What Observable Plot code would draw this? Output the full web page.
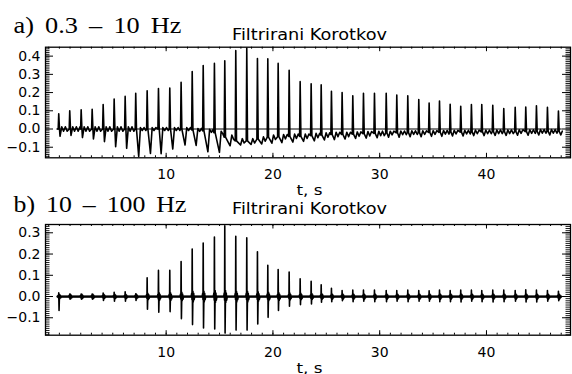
<!DOCTYPE html>
<html><head><meta charset="utf-8">
<script src="https://cdn.jsdelivr.net/npm/d3@7"></script>
<script src="https://cdn.jsdelivr.net/npm/@observablehq/plot@0.6"></script>
<style>
body{margin:0;background:#fff;}
#wrap{position:relative;width:572px;height:374px;overflow:hidden;background:#fff;}
#wrap svg{position:absolute;left:0;overflow:visible;}
</style></head><body><div id="wrap"></div>
<script>
// ---- data ----
const beatTimes = [-0.06, 0.97, 2.04, 3.07, 4.10, 5.13, 6.16, 7.15, 8.22, 9.28,
  10.34, 11.40, 12.44, 13.47, 14.52, 15.49, 16.52, 17.55, 18.55, 19.52,
  20.49, 21.52, 22.55, 23.58, 24.52, 25.48, 26.48, 27.48, 28.48, 29.51,
  30.61, 31.60, 32.63, 33.66, 34.63, 35.60, 36.60, 37.59, 38.59, 39.56,
  40.59, 41.62, 42.69, 43.68, 44.68, 45.71, 46.74];
const traceStart = -0.2, traceEnd = 47.1;

// panel a (0.3 - 10 Hz)
const peakA = [0.084, 0.100, 0.106, 0.108, 0.134, 0.164, 0.179, 0.196, 0.210, 0.222,
  0.225, 0.257, 0.315, 0.348, 0.360, 0.374, 0.430, 0.445, 0.387, 0.386,
  0.360, 0.322, 0.260, 0.248, 0.242, 0.207, 0.200, 0.182, 0.196, 0.196,
  0.196, 0.186, 0.182, 0.162, 0.143, 0.153, 0.136, 0.125, 0.134, 0.134,
  0.130, 0.112, 0.119, 0.121, 0.127, 0.119, 0.099];
const dipA = [-0.040, -0.035, -0.047, -0.054, -0.069, -0.097, -0.106, -0.150, -0.134, -0.136,
  -0.110, -0.088, -0.090, -0.125, -0.128, -0.092, -0.088, -0.085, -0.082, -0.078,
  -0.075, -0.072, -0.068, -0.065, -0.060, -0.058, -0.055, -0.052, -0.050, -0.048,
  -0.045, -0.045, -0.042, -0.042, -0.040, -0.040, -0.038, -0.038, -0.036, -0.036,
  -0.035, -0.035, -0.034, -0.034, -0.033, -0.033, -0.032];
const lagA = [0.12, 0.12, 0.12, 0.12, 0.12, 0.14, 0.14, 0.28, 0.31, 0.25,
  0.28, 0.37, 0.37, 0.44, 0.47, 0.50, 0.45, 0.40, 0.40, 0.38,
  0.35, 0.35, 0.32, 0.30, 0.30, 0.28, 0.28, 0.26, 0.26, 0.25,
  0.22, 0.22, 0.22, 0.22, 0.22, 0.22, 0.22, 0.22, 0.22, 0.22,
  0.22, 0.22, 0.22, 0.22, 0.22, 0.22, 0.22];
const levelA = [0, 0, 0, 0, 0, 0, 0, 0, 0, 0,
  0, 0, -0.005, -0.010, -0.020, -0.045, -0.065, -0.065, -0.055, -0.045,
  -0.042, -0.040, -0.040, -0.036, -0.033, -0.030, -0.030, -0.028, -0.026, -0.024,
  -0.022, -0.021, -0.020, -0.020, -0.019, -0.018, -0.017, -0.017, -0.016, -0.016,
  -0.015, -0.015, -0.014, -0.014, -0.013, -0.013, -0.012];
const noiseA = [0.012, 0.012, 0.012, 0.012, 0.012, 0.012, 0.012, 0.008, 0.008, 0.008,
  0.008, 0.008, 0.008, 0.008, 0.008, 0.012, 0.012, 0.012, 0.012, 0.012,
  0.012, 0.012, 0.012, 0.012, 0.012, 0.012, 0.012, 0.012, 0.012, 0.012,
  0.010, 0.010, 0.010, 0.010, 0.010, 0.010, 0.010, 0.010, 0.010, 0.010,
  0.010, 0.010, 0.010, 0.010, 0.010, 0.010, 0.010];

// panel b (10 - 100 Hz)
const peakB = [0.017, 0.012, 0.012, 0.012, 0.016, 0.020, 0.022, 0.013, 0.088, 0.123,
  0.123, 0.165, 0.224, 0.252, 0.280, 0.333, 0.284, 0.276, 0.211, 0.147,
  0.127, 0.115, 0.084, 0.072, 0.055, 0.039, 0.028, 0.030, 0.030, 0.030,
  0.028, 0.028, 0.030, 0.028, 0.027, 0.030, 0.028, 0.030, 0.030, 0.028,
  0.030, 0.030, 0.028, 0.032, 0.030, 0.028, 0.025];
const dipB = [-0.066, -0.013, -0.012, -0.012, -0.019, -0.022, -0.022, -0.019, -0.060, -0.074,
  -0.071, -0.104, -0.132, -0.148, -0.153, -0.172, -0.158, -0.158, -0.129, -0.098,
  -0.066, -0.046, -0.038, -0.035, -0.027, -0.024, -0.020, -0.024, -0.022, -0.024,
  -0.024, -0.022, -0.024, -0.022, -0.022, -0.024, -0.024, -0.026, -0.022, -0.024,
  -0.026, -0.024, -0.022, -0.026, -0.026, -0.022, -0.020];
const burstB = [0.010, 0.010, 0.010, 0.010, 0.010, 0.010, 0.010, 0.010, 0.015, 0.018,
  0.018, 0.020, 0.025, 0.025, 0.028, 0.028, 0.025, 0.025, 0.022, 0.020,
  0.018, 0.016, 0.015, 0.014, 0.013, 0.012, 0.012, 0.012, 0.012, 0.012,
  0.012, 0.012, 0.012, 0.012, 0.012, 0.012, 0.012, 0.012, 0.012, 0.012,
  0.012, 0.012, 0.012, 0.012, 0.012, 0.012, 0.012];

// axes / text
const xDomain = [-1.3, 47.87];
const yDomainA = [-0.158, 0.449];
const yDomainB = [-0.182, 0.339];
const xTicks = [10, 20, 30, 40];
const yTicksA = [-0.1, 0.0, 0.1, 0.2, 0.3, 0.4];
const yTicksB = [-0.1, 0.0, 0.1, 0.2, 0.3];
const titleText = "Filtrirani Korotkov";
const xLabel = "t, s";
const panelLabelA = "a) 0.3 – 10 Hz";
const panelLabelB = "b) 10 – 100 Hz";

// ---- build traces from the per-beat readings ----
function buildTraceA() {
  const pts = [{t: traceStart, v: 0}];
  for (let i = 0; i < beatTimes.length; i++) {
    const t = beatTimes[i], L = levelA[i], nz = noiseA[i];
    const tNext = i < beatTimes.length - 1 ? beatTimes[i + 1] : traceEnd;
    pts.push({t: t - 0.05, v: L});
    pts.push({t: t, v: peakA[i]});
    pts.push({t: t + 0.07, v: L});
    pts.push({t: t + lagA[i], v: dipA[i]});
    let s = t + lagA[i] + 0.16, k = 0;
    while (s < tNext - 0.1) { pts.push({t: s, v: L + (k % 2 ? -nz : nz)}); s += 0.17; k++; }
  }
  pts.push({t: traceEnd, v: levelA[levelA.length - 1]});
  return pts;
}
function buildTraceB() {
  const pts = [{t: traceStart, v: 0}];
  for (let i = 0; i < beatTimes.length; i++) {
    const t = beatTimes[i], w = burstB[i];
    const tNext = i < beatTimes.length - 1 ? beatTimes[i + 1] : traceEnd;
    pts.push({t: t - 0.10, v: 0});
    pts.push({t: t - 0.05, v: w * 0.6});
    pts.push({t: t - 0.02, v: -w * 0.6});
    pts.push({t: t, v: peakB[i]});
    pts.push({t: t + 0.03, v: dipB[i]});
    pts.push({t: t + 0.07, v: w});
    pts.push({t: t + 0.10, v: -w});
    pts.push({t: t + 0.14, v: w * 0.6});
    pts.push({t: t + 0.18, v: -w * 0.6});
    pts.push({t: t + 0.24, v: 0});
    pts.push({t: tNext - 0.1, v: 0});
  }
  return pts;
}

function panel(o) {
  const marginLeft = 45, marginRight = 2;
  const innerH = o.height - o.marginTop - o.marginBottom;
  const innerW = 572 - marginLeft - marginRight;
  const yMinor = d3.range(Math.ceil(o.yDomain[0] * 100), Math.floor(o.yDomain[1] * 100) + 1).map(k => k / 100);
  const xMinor = d3.range(Math.ceil(xDomain[0]), Math.floor(xDomain[1]) + 1);
  const fmt = d3.format(".1f");
  const svg = Plot.plot({
    width: 572, height: o.height,
    marginTop: o.marginTop, marginBottom: o.marginBottom, marginLeft, marginRight,
    x: {domain: xDomain, axis: null},
    y: {domain: o.yDomain, axis: null},
    style: {background: "transparent", overflow: "visible", fontFamily: "DejaVu Sans", fontSize: "14px", color: "black"},
    marks: [
      Plot.ruleY([0], {x1: traceStart, x2: traceEnd, strokeWidth: o.zeroWidth}),
      Plot.line(o.trace, {x: "t", y: "v", strokeWidth: 1.6}),
      Plot.ruleX(xMinor, {insetTop: innerH - 2}),
      Plot.ruleX(xMinor, {insetBottom: innerH - 2}),
      Plot.ruleX(xTicks, {insetTop: innerH - 4.5}),
      Plot.ruleX(xTicks, {insetBottom: innerH - 4.5}),
      Plot.ruleY(yMinor, {insetRight: innerW - 4.5, strokeWidth: 0.9}),
      Plot.ruleY(yMinor, {insetLeft: innerW - 4.5, strokeWidth: 0.9}),
      Plot.ruleY(o.yTicks, {insetRight: innerW - 8}),
      Plot.ruleY(o.yTicks, {insetLeft: innerW - 8}),
      Plot.frame({strokeWidth: 1.3}),
      Plot.text(o.yTicks, {y: d => d, text: d => fmt(d), frameAnchor: "left", textAnchor: "end", dx: -5}),
      Plot.text(xTicks, {x: d => d, text: d => String(d), frameAnchor: "bottom", lineAnchor: "bottom", dy: o.tickDy}),
      Plot.text([xLabel], {frameAnchor: "bottom", lineAnchor: "bottom", dx: 1.5, dy: o.xlabDy}),
      Plot.text([titleText], {frameAnchor: "top", lineAnchor: "bottom", dx: 1.5, dy: o.titleDy, fontSize: 15}),
      Plot.text([o.label], {frameAnchor: "top-left", textAnchor: "start", lineAnchor: "bottom", dx: -32, dy: o.labelDy, fontFamily: "Liberation Serif", fontSize: 23, fontWeight: "normal"})
    ]
  });
  svg.style.top = o.top + "px";
  svg.querySelectorAll("text").forEach(el => {
    const s = el.textContent;
    if (s === o.label) { el.style.wordSpacing = "4px"; el.setAttribute("textLength", o.labelLen); el.setAttribute("lengthAdjust", "spacingAndGlyphs"); }
    else if (s === titleText) { el.setAttribute("textLength", 155); el.setAttribute("lengthAdjust", "spacingAndGlyphs"); }
    else if (s === xLabel) { el.setAttribute("textLength", 26); el.setAttribute("lengthAdjust", "spacingAndGlyphs"); }
  });
  return svg;
}

const wrap = document.getElementById("wrap");
wrap.appendChild(panel({
  top: 0, height: 200, marginTop: 46.7, marginBottom: 42.7,
  yDomain: yDomainA, yTicks: yTicksA, trace: buildTraceA(), zeroWidth: 1,
  label: panelLabelA, labelLen: 168, labelDy: -14.2, titleDy: -7.7, tickDy: 20.7, xlabDy: 36.7
}));
wrap.appendChild(panel({
  top: 186, height: 188, marginTop: 38, marginBottom: 39.3,
  yDomain: yDomainB, yTicks: yTicksB, trace: buildTraceB(), zeroWidth: 2.2,
  label: panelLabelB, labelLen: 173, labelDy: -12.5, titleDy: -10.7, tickDy: 22, xlabDy: 37.3
}));
</script></body></html>
